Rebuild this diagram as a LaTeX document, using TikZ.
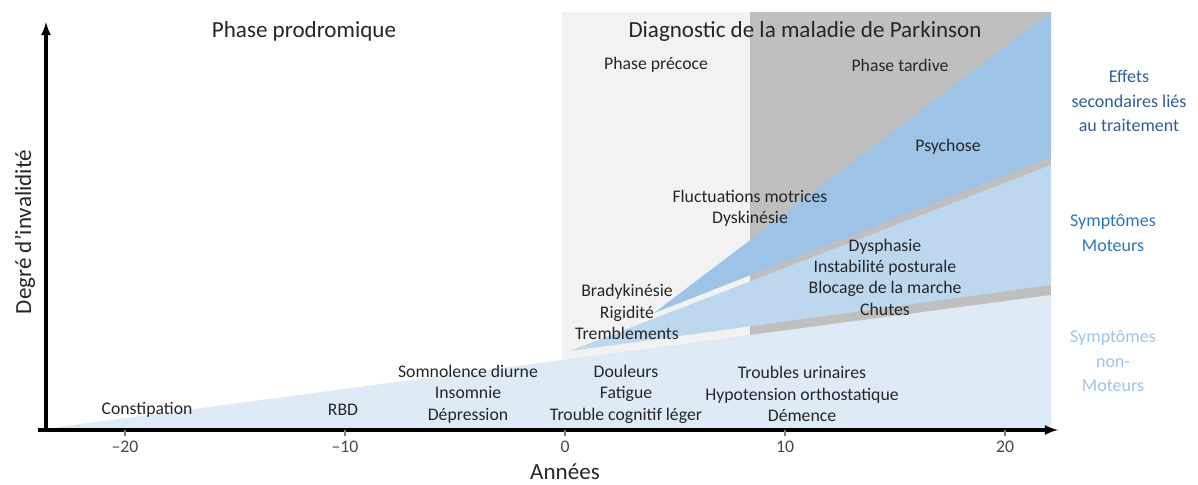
\documentclass[tikz,border=0pt]{standalone}
\usepackage{fontspec}
\setmainfont{Carlito}
\usetikzlibrary{calc}

\definecolor{ink}{HTML}{262626}
\definecolor{earlyphase}{HTML}{F2F2F2}
\definecolor{latephase}{HTML}{BFBFBF}
\definecolor{treatfill}{HTML}{9DC3E6}
\definecolor{motorfill}{HTML}{BDD7EE}
\definecolor{nonmotorfill}{HTML}{DEEBF7}
\definecolor{treattext}{HTML}{2E5F94}
\definecolor{motortext}{HTML}{2E75B6}
\definecolor{nonmotortext}{HTML}{9DC3E6}

\begin{document}
\begin{tikzpicture}[x=0.025cm,y=-0.025cm,
  lbl/.style={text=ink,font=\fontsize{12.6}{15.2}\selectfont,align=center},
  head/.style={text=ink,font=\fontsize{16.4}{19}\selectfont},
  side/.style={font=\fontsize{12.8}{17.5}\selectfont,align=center}]
  \useasboundingbox (0,0) rectangle (1198,485);

  % phases
  \fill[earlyphase] (562,12) rectangle (750,430);
  \fill[latephase] (750,12) rectangle (1051,430);

  % symptom wedges
  \fill[nonmotorfill] (58,427) -- (1051,295) -- (1051,430) -- (58,430) -- cycle;
  \fill[motorfill] (570,351) -- (1051,165) -- (1051,285) -- cycle;
  \fill[treatfill] (654,313) -- (1051,12) -- (1051,157) -- cycle;

  % axes
  \coordinate (xstart) at (38,430);
  \coordinate (xend) at (1058,430);
  \coordinate (ystart) at (46,432);
  \coordinate (yend) at (46,22);
  \draw[line width=2.2pt,-latex] (xstart) -- (xend);
  \draw[line width=2.2pt,-latex] (ystart) -- (yend);
  \foreach \yr/\txt in {-20/{–20},-10/{–10},0/0,10/10,20/20}{
    \draw[gray,thick] ({\yr*22+565},430) -- ++(0,6);
    \node[lbl,text=ink!85] (tick\yr) at ({\yr*22+565},447) {\txt};
  }
  \node[head,inner sep=1pt] (years) at (565,472) {Années};
  \node[head,rotate=90] (degree) at (25,232) {Degré d’invalidité};

  % headings
  \node[head] (prodromal) at (304,31) {Phase prodromique};
  \node[head] (diagnosis) at (805,31) {Diagnostic de la maladie de Parkinson};
  \node[lbl] (early) at (656,65) {Phase précoce};
  \node[lbl] (late) at (900,65) {Phase tardive};

  % non-motor symptoms
  \node[lbl] (constip) at (147,410) {Constipation};
  \node[lbl] (rbd) at (343,410) {RBD};
  \node[lbl] (sleep) at (468,394) {Somnolence diurne\\Insomnie\\Dépression};
  \node[lbl] (pain) at (626,394) {Douleurs\\Fatigue\\Trouble cognitif léger};
  \node[lbl] (urine) at (802,394) {Troubles urinaires\\Hypotension orthostatique\\Démence};

  % motor symptoms
  \node[lbl] (brady) at (627,312) {Bradykinésie\\Rigidité\\Tremblements};
  \node[lbl] (gait) at (885,277) {Dysphasie\\Instabilité posturale\\Blocage de la marche\\Chutes};

  % treatment effects
  \node[lbl] (fluct) at (750,208) {Fluctuations motrices\\Dyskinésie};
  \node[lbl] (psych) at (948,147) {Psychose};

  % legend
  \node[side,text=treattext] (treatlbl) at (1129,101) {Effets\\secondaires liés\\au traitement};
  \node[side,text=motortext] (motorlbl) at (1113,233) {Symptômes\\Moteurs};
  \node[side,text=nonmotortext] (nonmotorlbl) at (1113,361) {Symptômes\\non-\\Moteurs};
\end{tikzpicture}
\end{document}
